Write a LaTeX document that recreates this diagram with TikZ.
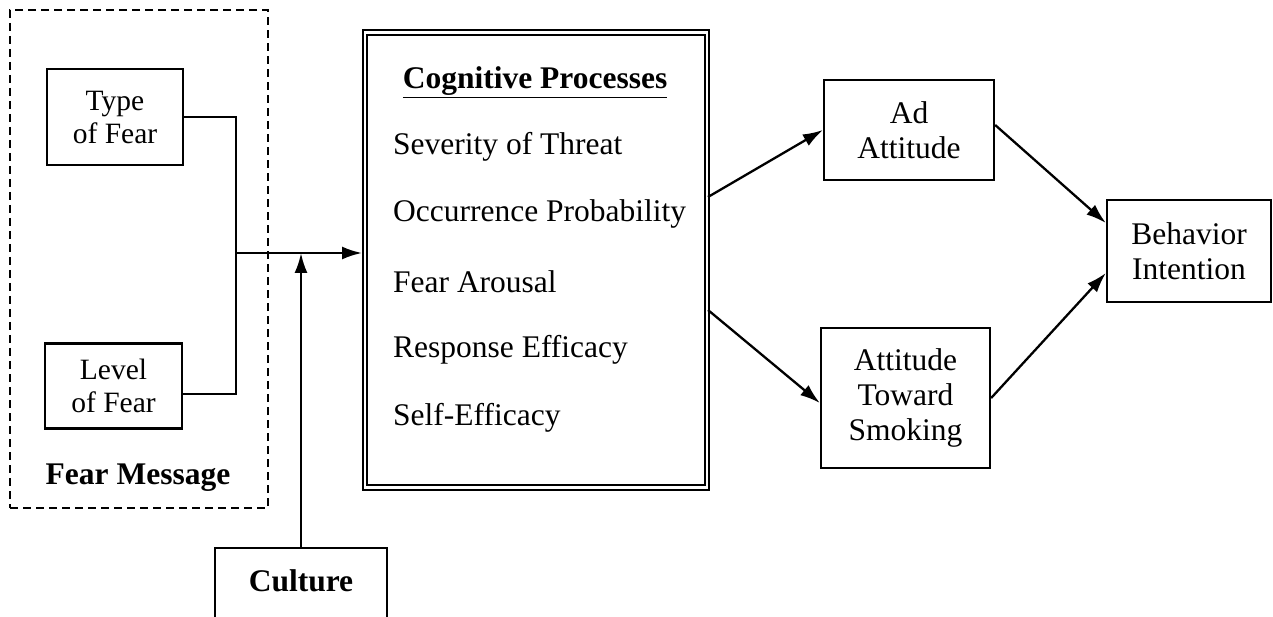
\documentclass[tikz,border=0pt]{standalone}
\usepackage{fontspec}
\setmainfont{Liberation Serif}
\usetikzlibrary{arrows.meta,positioning}
\newcommand{\bigtext}{\fontsize{31.5}{35}\selectfont}
\newcommand{\smalltext}{\fontsize{29.5}{33}\selectfont}
\tikzset{
  box/.style={draw,line width=2.3pt,align=center,inner sep=0pt,font=\bigtext},
  group/.style={draw,line width=2pt,dash pattern=on 8pt off 5pt,
    minimum width=258pt,minimum height=498pt,inner sep=0pt},
  cogbox/.style={draw,double,double distance=2.6pt,line width=2pt,
    minimum width=342pt,minimum height=455pt,inner sep=0pt},
  item/.style={anchor=west,inner sep=0pt,font=\bigtext},
  heading/.style={inner sep=0pt,font=\bigtext\bfseries},
  arrow/.style={-{Latex[length=20pt,width=13pt]},line width=2.3pt}
}

\begin{document}
\begin{tikzpicture}[x=1pt,y=-1pt,line width=2.3pt]
  \useasboundingbox (0,0) rectangle (1273,617);
  \clip (0,0) rectangle (1273,617);

  % fear message group
  \node[group] (fearmsg) at (139,259) {};
  \node[box,font=\smalltext,minimum width=136pt,minimum height=96pt] (type) at (115,117) {Type\\of Fear};
  \node[box,font=\smalltext,minimum width=137pt,minimum height=85pt] (level) at (113.5,386) {Level\\of Fear};
  \node[heading] (fmlabel) at (138,478) {Fear Message};

  % cognitive processes
  \node[cogbox] (cog) at (536,260) {};
  \node[heading] (cogtitle) at (535,82) {\underline{Cognitive Processes}};
  \node[item] (severity) at (392,147) {Severity of Threat};
  \node[item] (occur) at (392,214) {Occurrence Probability};
  \node[item] (arousal) at (392,282) {Fear Arousal};
  \node[item] (response) at (392,350) {Response Efficacy};
  \node[item] (selfeff) at (392,418) {Self-Efficacy};

  \node[box,font=\bigtext\bfseries,anchor=north,minimum width=172pt,
    text height=43pt,text depth=40pt] (culture) at (301,547) {Culture};

  % outcomes
  \node[box,minimum width=170pt,minimum height=100pt] (ad) at (909,130) {Ad\\Attitude};
  \node[box,minimum width=169pt,minimum height=140pt] (smoke) at (905.5,398) {Attitude\\Toward\\Smoking};
  \node[box,minimum width=164pt,minimum height=102pt] (behav) at (1189,251) {Behavior\\Intention};

  \coordinate (jn) at (236,253);
  \draw (type.east) -| (jn) |- ([yshift=-8pt]level.east);
  \draw[arrow,shorten >=2pt] (jn) -- (jn -| cog.west);
  \draw[arrow] (culture.north) -- (culture.north |- jn);
  \draw[arrow] ([yshift=63pt]cog.east) -- (ad.west);
  \draw[arrow] ([yshift=-50pt]cog.east) -- ([yshift=-5pt]smoke.west);
  \draw[arrow] ([yshift=5pt]ad.east) -- ([yshift=28pt]behav.west);
  \draw[arrow] (smoke.east) -- ([yshift=-22pt]behav.west);
\end{tikzpicture}
\end{document}
